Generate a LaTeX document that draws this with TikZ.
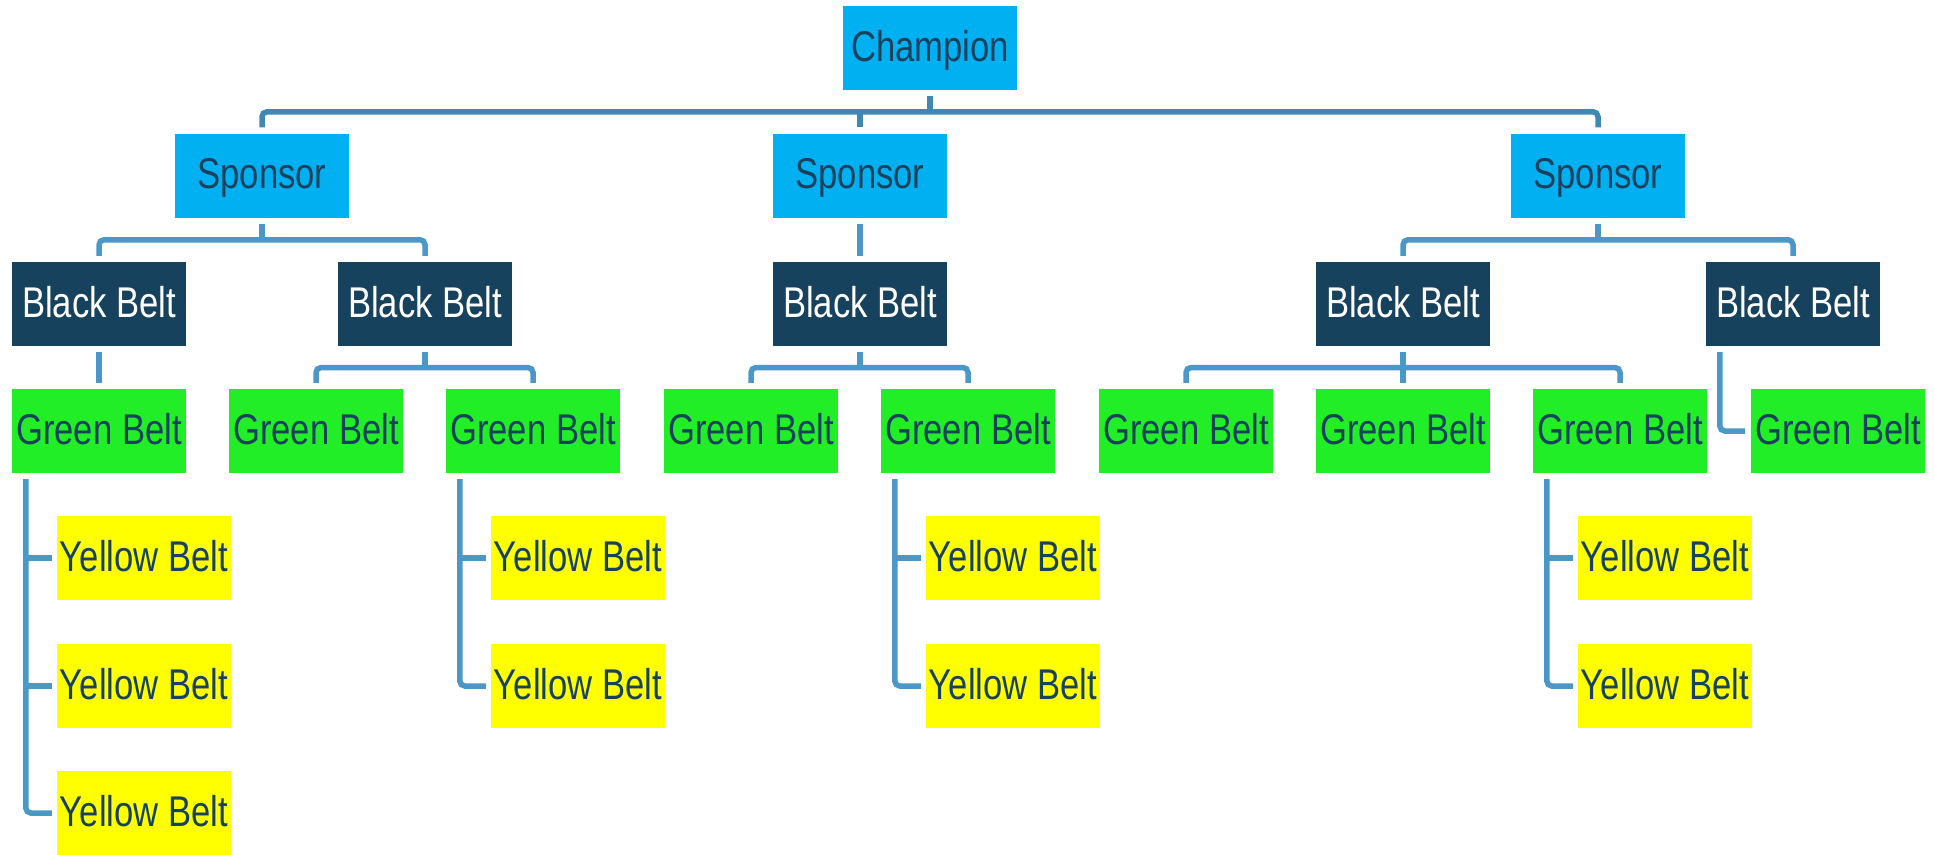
\documentclass[tikz,border=0pt]{standalone}
\usepackage{fontspec}
\setmainfont[FakeStretch=0.805]{Liberation Sans}
\usetikzlibrary{calc}
\definecolor{cyanbox}{HTML}{00B0F0}
\definecolor{blackbelt}{HTML}{17425D}
\definecolor{greenbelt}{HTML}{22EE28}
\definecolor{yellowbelt}{HTML}{FFFF00}
\definecolor{navytext}{HTML}{17415C}
\definecolor{linktop}{HTML}{4087B3}
\definecolor{link}{HTML}{4A97C8}
\begin{document}
\begin{tikzpicture}[x=1pt,y=-1pt,
  box/.style={rectangle, minimum width=174pt, minimum height=84pt, inner sep=0pt,
    text height=31pt, text depth=5pt, font=\fontsize{43}{50}\selectfont, text=navytext},
  lead/.style={box, fill=cyanbox},
  bb/.style={box, fill=blackbelt, text=white},
  gb/.style={box, fill=greenbelt},
  yb/.style={box, fill=yellowbelt},
  conn/.style={draw=link, line width=5.5pt, rounded corners=5pt},
  conntop/.style={conn, draw=linktop}]
\useasboundingbox (0,0) rectangle (1934,854);

% Champion and sponsors
\node[lead] (ch) at (930,48) {Champion};
\node[lead] (s1) at (262,175.5) {Sponsor};
\node[lead] (s2) at (860,175.5) {Sponsor};
\node[lead] (s3) at (1598,175.5) {Sponsor};

% Black belts
\node[bb] (b1) at (99,304) {Black Belt};
\node[bb] (b2) at (425,304) {Black Belt};
\node[bb] (b3) at (860,304) {Black Belt};
\node[bb] (b4) at (1403,304) {Black Belt};
\node[bb] (b5) at (1793,304) {Black Belt};

% Green belts
\node[gb] (g1) at (99,431) {Green Belt};
\node[gb] (g2) at (316,431) {Green Belt};
\node[gb] (g3) at (533,431) {Green Belt};
\node[gb] (g4) at (751,431) {Green Belt};
\node[gb] (g5) at (968,431) {Green Belt};
\node[gb] (g6) at (1186,431) {Green Belt};
\node[gb] (g7) at (1403,431) {Green Belt};
\node[gb] (g8) at (1620,431) {Green Belt};
\node[gb] (g9) at (1838,431) {Green Belt};

% Yellow belts
\node[yb] (y11) at (144,558) {Yellow Belt};
\node[yb] (y12) at (144,686) {Yellow Belt};
\node[yb] (y13) at (144,813) {Yellow Belt};
\node[yb] (y31) at (578,558) {Yellow Belt};
\node[yb] (y32) at (578,686) {Yellow Belt};
\node[yb] (y51) at (1013,558) {Yellow Belt};
\node[yb] (y52) at (1013,686) {Yellow Belt};
\node[yb] (y81) at (1665,558) {Yellow Belt};
\node[yb] (y82) at (1665,686) {Yellow Belt};

% Champion -> sponsors
\coordinate (m0) at ($(ch.south)!0.5!(s2.north)$);
\draw[conntop] ([yshift=-6pt]ch.south) -- (ch.south |- m0);
\draw[conntop] ([yshift=6pt]s1.north) |- (m0 -| s3) -- ([yshift=6pt]s3.north);
\draw[conntop] (m0 -| s2) -- ([yshift=6pt]s2.north);

% Sponsors -> black belts
\coordinate (m1) at ($(s1.south)!0.5!(b1.north)$);
\draw[conn] ([yshift=-6pt]s1.south) -- (s1.south |- m1);
\draw[conn] ([yshift=6pt]b1.north) |- (m1 -| b2) -- ([yshift=6pt]b2.north);
\draw[conn] ([yshift=-6pt]s2.south) -- ([yshift=6pt]b3.north);
\coordinate (m3) at ($(s3.south)!0.5!(b4.north)$);
\draw[conn] ([yshift=-6pt]s3.south) -- (s3.south |- m3);
\draw[conn] ([yshift=6pt]b4.north) |- (m3 -| b5) -- ([yshift=6pt]b5.north);

% Black belts -> green belts
\draw[conn] ([yshift=-6pt]b1.south) -- ([yshift=6pt]g1.north);
\coordinate (n2) at ($(b2.south)!0.5!(g2.north)$);
\draw[conn] ([yshift=-6pt]b2.south) -- (b2.south |- n2);
\draw[conn] ([yshift=6pt]g2.north) |- (n2 -| g3) -- ([yshift=6pt]g3.north);
\coordinate (n3) at ($(b3.south)!0.5!(g4.north)$);
\draw[conn] ([yshift=-6pt]b3.south) -- (b3.south |- n3);
\draw[conn] ([yshift=6pt]g4.north) |- (n3 -| g5) -- ([yshift=6pt]g5.north);
\coordinate (n4) at ($(b4.south)!0.5!(g6.north)$);
\draw[conn] ([yshift=-6pt]b4.south) -- ([yshift=6pt]g7.north);
\draw[conn] ([yshift=6pt]g6.north) |- (n4 -| g8) -- ([yshift=6pt]g8.north);
\coordinate (v5) at ([xshift=14pt,yshift=-6pt]b5.south west);
\draw[conn] (v5) |- ([xshift=-6pt]g9.west);

% Green belts -> yellow belts
\coordinate (v1) at ([xshift=14pt,yshift=-6pt]g1.south west);
\draw[conn] (v1) |- ([xshift=-5pt]y13.west);
\draw[conn] (v1 |- y11.west) -- ([xshift=-5pt]y11.west);
\draw[conn] (v1 |- y12.west) -- ([xshift=-5pt]y12.west);

\coordinate (v3) at ([xshift=14pt,yshift=-6pt]g3.south west);
\draw[conn] (v3) |- ([xshift=-5pt]y32.west);
\draw[conn] (v3 |- y31.west) -- ([xshift=-5pt]y31.west);

\coordinate (v5g) at ([xshift=14pt,yshift=-6pt]g5.south west);
\draw[conn] (v5g) |- ([xshift=-5pt]y52.west);
\draw[conn] (v5g |- y51.west) -- ([xshift=-5pt]y51.west);

\coordinate (v8) at ([xshift=14pt,yshift=-6pt]g8.south west);
\draw[conn] (v8) |- ([xshift=-5pt]y82.west);
\draw[conn] (v8 |- y81.west) -- ([xshift=-5pt]y81.west);
\end{tikzpicture}
\end{document}
